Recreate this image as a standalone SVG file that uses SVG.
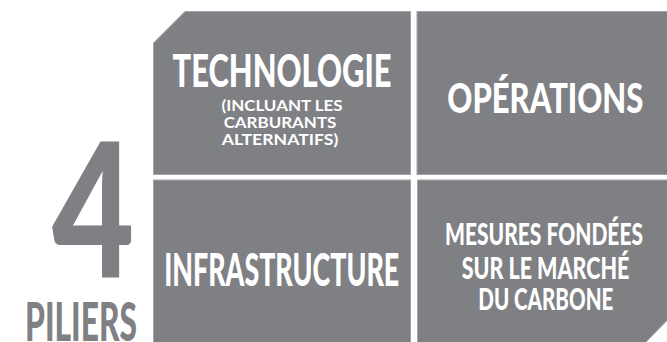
<svg xmlns="http://www.w3.org/2000/svg" width="667" height="342" viewBox="0 0 667 342">
<style>
.tile{fill:#7f8084;stroke:#a3a4a7;stroke-width:1}
.t{font-family:Lato,"Liberation Sans",Arial,sans-serif;font-weight:900;fill:#ffffff;text-anchor:middle}
.s{font-family:Lato,"Liberation Sans",Arial,sans-serif;font-weight:bold;fill:#ffffff;text-anchor:middle;font-size:15px}
.g{font-family:Lato,"Liberation Sans",Arial,sans-serif;font-weight:900;fill:#7f8084;text-anchor:middle}
</style>
<rect width="667" height="342" fill="#ffffff"/>
<g id="title">
<text class="g" x="93.3" y="277.3" font-size="186" textLength="82.5" lengthAdjust="spacingAndGlyphs">4</text>
<text class="g" x="81" y="340.5" font-size="53" textLength="112" lengthAdjust="spacingAndGlyphs">PILIERS</text>
</g>
<g id="technologie">
<polygon class="tile" points="185,11.5 410.5,11.5 410.5,174.5 153.5,174.5 153.5,43"/>
<text class="t" x="282" y="87" font-size="46" textLength="219" lengthAdjust="spacingAndGlyphs">TECHNOLOGIE</text>
<text class="s" x="282" y="111" textLength="121" lengthAdjust="spacingAndGlyphs">(INCLUANT LES</text>
<text class="s" x="280" y="128" textLength="112.7" lengthAdjust="spacingAndGlyphs">CARBURANTS</text>
<text class="s" x="280" y="145" textLength="116.6" lengthAdjust="spacingAndGlyphs">ALTERNATIFS)</text>
</g>
<g id="operations">
<rect class="tile" x="417" y="11.5" width="251" height="163"/>
<text class="t" x="545.3" y="112.7" font-size="41" textLength="196" lengthAdjust="spacingAndGlyphs">OPÉRATIONS</text>
</g>
<g id="infrastructure">
<rect class="tile" x="153.5" y="180" width="257" height="163"/>
<text class="t" x="281.7" y="286" font-size="46" textLength="235" lengthAdjust="spacingAndGlyphs">INFRASTRUCTURE</text>
</g>
<g id="mesures">
<polygon class="tile" points="417.5,180 668,180 668,319.5 645,343 417.5,343"/>
<text class="t" x="544" y="245" font-size="30.5" textLength="198" lengthAdjust="spacingAndGlyphs">MESURES FONDÉES</text>
<text class="t" x="545.5" y="278.5" font-size="30.5" textLength="167.6" lengthAdjust="spacingAndGlyphs">SUR LE MARCHÉ</text>
<text class="t" x="545.8" y="310" font-size="30.5" textLength="135" lengthAdjust="spacingAndGlyphs">DU CARBONE</text>
</g>
<g id="connectors"/>
</svg>
